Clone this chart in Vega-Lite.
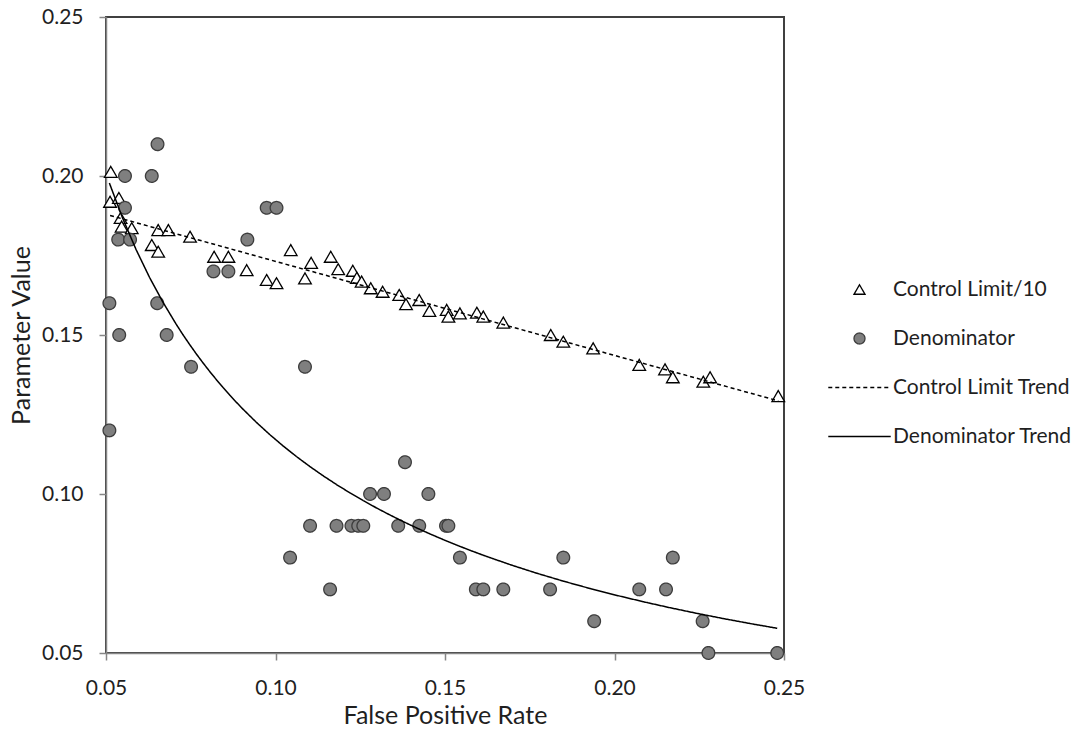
{
  "$schema": "https://vega.github.io/schema/vega-lite/v6.json",
  "width": 678,
  "height": 636,
  "autosize": {"type": "none"},
  "padding": {"left": 106, "top": 17, "right": 305, "bottom": 78},
  "background": "white",
  "config": {
    "font": "Lato",
    "view": {"stroke": "#404040", "strokeWidth": 2},
    "axis": {
      "domainColor": "#868686", "domainWidth": 1.5,
      "tickColor": "#868686", "tickWidth": 1.5, "tickSize": 7,
      "grid": false,
      "labelFont": "Lato", "labelFontSize": 21, "labelColor": "#1f1f1f",
      "labelFlush": false, "labelOverlap": false,
      "titleFont": "Lato", "titleFontSize": 25, "titleFontWeight": "normal", "titleColor": "#1f1f1f",
      "zindex": 1
    }
  },
  "data": {
    "values": [
      {"fpr": 0.0514, "value": 0.2013, "series": "Control Limit/10"},
      {"fpr": 0.0512, "value": 0.1919, "series": "Control Limit/10"},
      {"fpr": 0.0538, "value": 0.1931, "series": "Control Limit/10"},
      {"fpr": 0.0543, "value": 0.1868, "series": "Control Limit/10"},
      {"fpr": 0.0546, "value": 0.1841, "series": "Control Limit/10"},
      {"fpr": 0.0576, "value": 0.1836, "series": "Control Limit/10"},
      {"fpr": 0.0635, "value": 0.1783, "series": "Control Limit/10"},
      {"fpr": 0.0654, "value": 0.1762, "series": "Control Limit/10"},
      {"fpr": 0.0654, "value": 0.1830, "series": "Control Limit/10"},
      {"fpr": 0.0684, "value": 0.1830, "series": "Control Limit/10"},
      {"fpr": 0.0748, "value": 0.1809, "series": "Control Limit/10"},
      {"fpr": 0.0819, "value": 0.1746, "series": "Control Limit/10"},
      {"fpr": 0.0861, "value": 0.1746, "series": "Control Limit/10"},
      {"fpr": 0.0915, "value": 0.1704, "series": "Control Limit/10"},
      {"fpr": 0.0974, "value": 0.1673, "series": "Control Limit/10"},
      {"fpr": 0.1003, "value": 0.1663, "series": "Control Limit/10"},
      {"fpr": 0.1045, "value": 0.1767, "series": "Control Limit/10"},
      {"fpr": 0.1087, "value": 0.1678, "series": "Control Limit/10"},
      {"fpr": 0.1105, "value": 0.1727, "series": "Control Limit/10"},
      {"fpr": 0.1163, "value": 0.1746, "series": "Control Limit/10"},
      {"fpr": 0.1185, "value": 0.1707, "series": "Control Limit/10"},
      {"fpr": 0.1228, "value": 0.1702, "series": "Control Limit/10"},
      {"fpr": 0.1240, "value": 0.1680, "series": "Control Limit/10"},
      {"fpr": 0.1254, "value": 0.1668, "series": "Control Limit/10"},
      {"fpr": 0.1281, "value": 0.1647, "series": "Control Limit/10"},
      {"fpr": 0.1316, "value": 0.1636, "series": "Control Limit/10"},
      {"fpr": 0.1365, "value": 0.1626, "series": "Control Limit/10"},
      {"fpr": 0.1385, "value": 0.1597, "series": "Control Limit/10"},
      {"fpr": 0.1424, "value": 0.1610, "series": "Control Limit/10"},
      {"fpr": 0.1454, "value": 0.1576, "series": "Control Limit/10"},
      {"fpr": 0.1505, "value": 0.1579, "series": "Control Limit/10"},
      {"fpr": 0.1510, "value": 0.1558, "series": "Control Limit/10"},
      {"fpr": 0.1544, "value": 0.1568, "series": "Control Limit/10"},
      {"fpr": 0.1594, "value": 0.1570, "series": "Control Limit/10"},
      {"fpr": 0.1613, "value": 0.1558, "series": "Control Limit/10"},
      {"fpr": 0.1672, "value": 0.1539, "series": "Control Limit/10"},
      {"fpr": 0.1812, "value": 0.1500, "series": "Control Limit/10"},
      {"fpr": 0.1849, "value": 0.1479, "series": "Control Limit/10"},
      {"fpr": 0.1937, "value": 0.1458, "series": "Control Limit/10"},
      {"fpr": 0.2073, "value": 0.1406, "series": "Control Limit/10"},
      {"fpr": 0.2149, "value": 0.1392, "series": "Control Limit/10"},
      {"fpr": 0.2172, "value": 0.1367, "series": "Control Limit/10"},
      {"fpr": 0.2262, "value": 0.1353, "series": "Control Limit/10"},
      {"fpr": 0.2282, "value": 0.1367, "series": "Control Limit/10"},
      {"fpr": 0.2483, "value": 0.1308, "series": "Control Limit/10"},
      {"fpr": 0.0510, "value": 0.12, "series": "Denominator"},
      {"fpr": 0.0510, "value": 0.16, "series": "Denominator"},
      {"fpr": 0.0539, "value": 0.15, "series": "Denominator"},
      {"fpr": 0.0536, "value": 0.18, "series": "Denominator"},
      {"fpr": 0.0556, "value": 0.20, "series": "Denominator"},
      {"fpr": 0.0556, "value": 0.19, "series": "Denominator"},
      {"fpr": 0.0571, "value": 0.18, "series": "Denominator"},
      {"fpr": 0.0635, "value": 0.20, "series": "Denominator"},
      {"fpr": 0.0652, "value": 0.21, "series": "Denominator"},
      {"fpr": 0.0651, "value": 0.16, "series": "Denominator"},
      {"fpr": 0.0679, "value": 0.15, "series": "Denominator"},
      {"fpr": 0.0751, "value": 0.14, "series": "Denominator"},
      {"fpr": 0.0817, "value": 0.17, "series": "Denominator"},
      {"fpr": 0.0861, "value": 0.17, "series": "Denominator"},
      {"fpr": 0.0917, "value": 0.18, "series": "Denominator"},
      {"fpr": 0.0974, "value": 0.19, "series": "Denominator"},
      {"fpr": 0.1003, "value": 0.19, "series": "Denominator"},
      {"fpr": 0.1043, "value": 0.08, "series": "Denominator"},
      {"fpr": 0.1087, "value": 0.14, "series": "Denominator"},
      {"fpr": 0.1102, "value": 0.09, "series": "Denominator"},
      {"fpr": 0.1161, "value": 0.07, "series": "Denominator"},
      {"fpr": 0.1180, "value": 0.09, "series": "Denominator"},
      {"fpr": 0.1224, "value": 0.09, "series": "Denominator"},
      {"fpr": 0.1244, "value": 0.09, "series": "Denominator"},
      {"fpr": 0.1259, "value": 0.09, "series": "Denominator"},
      {"fpr": 0.1279, "value": 0.10, "series": "Denominator"},
      {"fpr": 0.1320, "value": 0.10, "series": "Denominator"},
      {"fpr": 0.1362, "value": 0.09, "series": "Denominator"},
      {"fpr": 0.1382, "value": 0.11, "series": "Denominator"},
      {"fpr": 0.1424, "value": 0.09, "series": "Denominator"},
      {"fpr": 0.1451, "value": 0.10, "series": "Denominator"},
      {"fpr": 0.1503, "value": 0.09, "series": "Denominator"},
      {"fpr": 0.1510, "value": 0.09, "series": "Denominator"},
      {"fpr": 0.1544, "value": 0.08, "series": "Denominator"},
      {"fpr": 0.1591, "value": 0.07, "series": "Denominator"},
      {"fpr": 0.1613, "value": 0.07, "series": "Denominator"},
      {"fpr": 0.1672, "value": 0.07, "series": "Denominator"},
      {"fpr": 0.1810, "value": 0.07, "series": "Denominator"},
      {"fpr": 0.1849, "value": 0.08, "series": "Denominator"},
      {"fpr": 0.1940, "value": 0.06, "series": "Denominator"},
      {"fpr": 0.2073, "value": 0.07, "series": "Denominator"},
      {"fpr": 0.2152, "value": 0.07, "series": "Denominator"},
      {"fpr": 0.2172, "value": 0.08, "series": "Denominator"},
      {"fpr": 0.2260, "value": 0.06, "series": "Denominator"},
      {"fpr": 0.2277, "value": 0.05, "series": "Denominator"},
      {"fpr": 0.2480, "value": 0.05, "series": "Denominator"}
    ]
  },
  "encoding": {
    "x": {
      "field": "fpr", "type": "quantitative",
      "scale": {"domain": [0.05, 0.25], "nice": false, "zero": false},
      "axis": {"title": "False Positive Rate", "values": [0.05, 0.1, 0.15, 0.2, 0.25], "format": ".2f", "labelPadding": 17, "titlePadding": 5}
    },
    "y": {
      "field": "value", "type": "quantitative",
      "scale": {"domain": [0.05, 0.25], "nice": false, "zero": false},
      "axis": {"title": "Parameter Value", "values": [0.05, 0.1, 0.15, 0.2, 0.25], "format": ".2f", "labelPadding": 16, "titlePadding": 7}
    }
  },
  "layer": [
    {
      "mark": {"type": "point", "filled": true, "size": 160, "strokeWidth": 1.3, "opacity": 1},
      "encoding": {
        "shape": {
          "field": "series", "type": "nominal",
          "scale": {"domain": ["Control Limit/10", "Denominator", "Control Limit Trend", "Denominator Trend"], "range": ["triangle-up", "circle", "M-5.7,0H5.7", "M-5.7,0H5.7"]},
          "legend": {"title": null, "orient": "none", "legendX": 743, "legendY": 262, "symbolSize": 120, "symbolStrokeWidth": 1.3, "labelFont": "Lato", "labelFontSize": 21, "labelColor": "#1f1f1f", "labelOffset": 23, "rowPadding": 27, "padding": 0, "labelLimit": 300}
        },
        "fill": {
          "field": "series", "type": "nominal",
          "scale": {"domain": ["Control Limit/10", "Denominator", "Control Limit Trend", "Denominator Trend"], "range": ["#ffffff", "#7f7f7f", "transparent", "transparent"]},
          "legend": {"title": null, "orient": "none", "legendX": 743, "legendY": 262, "symbolSize": 120, "symbolStrokeWidth": 1.3, "labelFont": "Lato", "labelFontSize": 21, "labelColor": "#1f1f1f", "labelOffset": 23, "rowPadding": 27, "padding": 0, "labelLimit": 300}
        },
        "stroke": {
          "field": "series", "type": "nominal",
          "scale": {"domain": ["Control Limit/10", "Denominator", "Control Limit Trend", "Denominator Trend"], "range": ["#000000", "#3c3c3c", "#000000", "#000000"]},
          "legend": {"title": null, "orient": "none", "legendX": 743, "legendY": 262, "symbolSize": 120, "symbolStrokeWidth": 1.3, "labelFont": "Lato", "labelFontSize": 21, "labelColor": "#1f1f1f", "labelOffset": 23, "rowPadding": 27, "padding": 0, "labelLimit": 300}
        },
        "strokeDash": {
          "field": "series", "type": "nominal",
          "scale": {"domain": ["Control Limit/10", "Denominator", "Control Limit Trend", "Denominator Trend"], "range": [[1, 0], [1, 0], [4, 3], [1, 0]]},
          "legend": {"title": null, "orient": "none", "legendX": 743, "legendY": 262, "symbolSize": 120, "symbolStrokeWidth": 1.3, "labelFont": "Lato", "labelFontSize": 21, "labelColor": "#1f1f1f", "labelOffset": 23, "rowPadding": 27, "padding": 0, "labelLimit": 300}
        }
      }
    },
    {
      "transform": [
        {"filter": "datum.series === 'Control Limit/10'"},
        {"regression": "value", "on": "fpr", "method": "linear"}
      ],
      "mark": {"type": "line", "strokeWidth": 1.5},
      "encoding": {
        "stroke": {"datum": "Control Limit Trend", "type": "nominal"},
        "strokeDash": {"datum": "Control Limit Trend", "type": "nominal"}
      }
    },
    {
      "transform": [
        {"filter": "datum.series === 'Denominator'"},
        {"regression": "value", "on": "fpr", "method": "pow"}
      ],
      "mark": {"type": "line", "strokeWidth": 1.5},
      "encoding": {
        "stroke": {"datum": "Denominator Trend", "type": "nominal"},
        "strokeDash": {"datum": "Denominator Trend", "type": "nominal"}
      }
    }
  ]
}
